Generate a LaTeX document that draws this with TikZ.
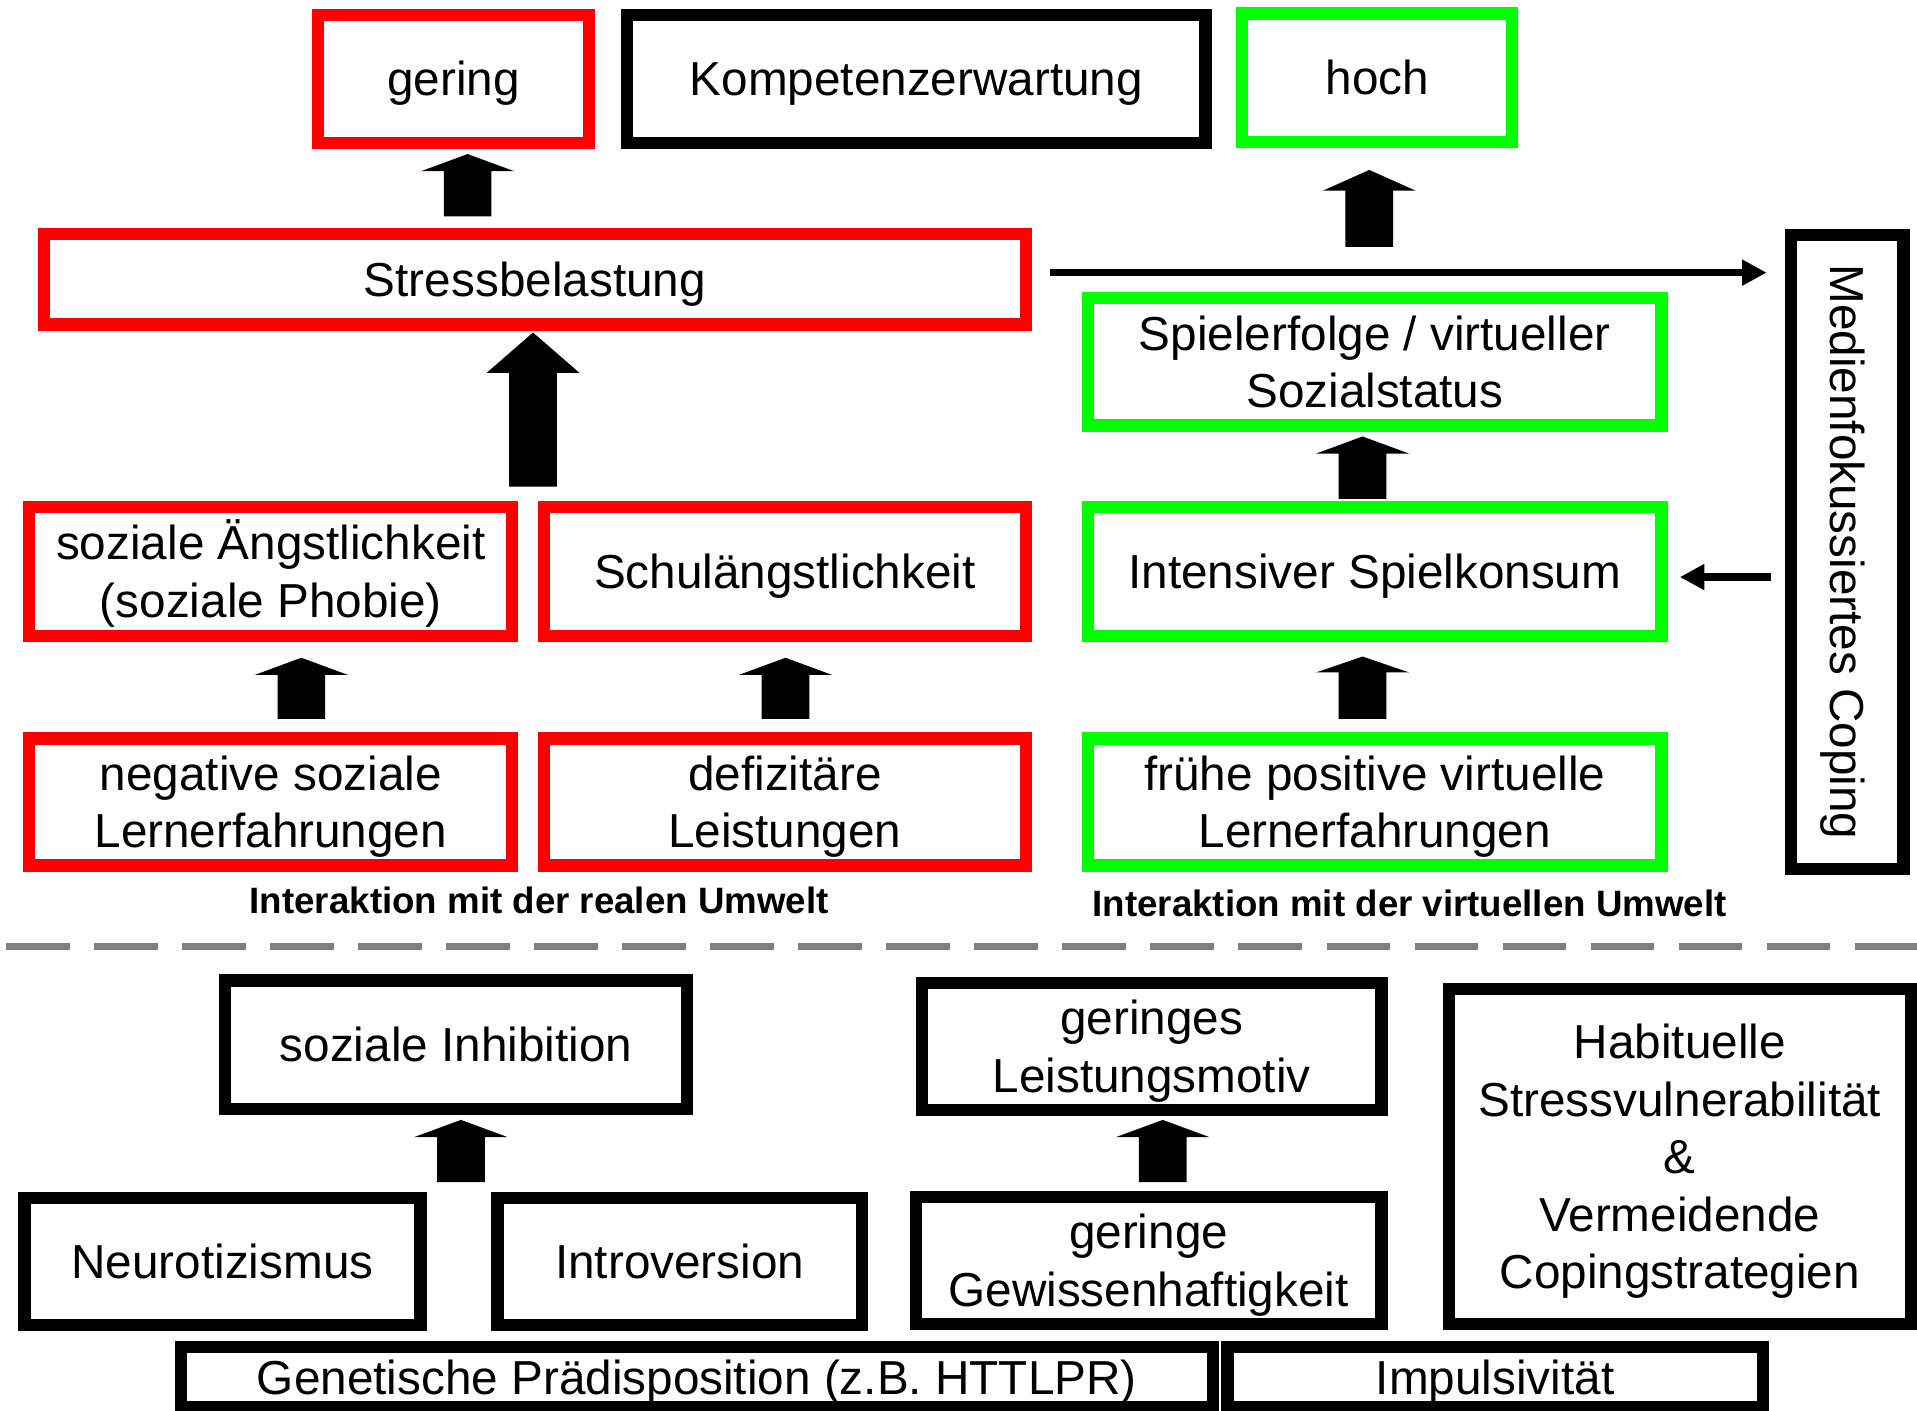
\documentclass[tikz,border=0pt]{standalone}
\usepackage{fontspec}
\setmainfont{Liberation Sans}
\usepackage{graphicx}
\usetikzlibrary{arrows.meta}
\definecolor{cred}{RGB}{255,0,0}
\definecolor{cgreen}{RGB}{0,255,0}
\definecolor{cgray}{RGB}{128,128,128}
\newcommand\st{\rule[-0.214em]{0pt}{1.144em}}
\newcommand\uparr[4]{%
  \fill[black] (#1,#2) -- (#1+38,#3) -- (#1+19.5,#3) -- (#1+19.5,#4) -- (#1-19.5,#4) -- (#1-19.5,#3) -- (#1-38,#3) -- cycle;}
\begin{document}
\begin{tikzpicture}[x=1pt,y=-1pt,
  box/.style={draw, line width=10pt, inner sep=0pt, outer sep=0pt, align=center, font=\fontsize{39}{47}\selectfont, text=black},
  rbox/.style={box, draw=cred},
  gbox/.style={box, draw=cgreen},
  kbox/.style={box, draw=black},
  lbl/.style={font=\fontsize{30}{36}\selectfont\bfseries, inner sep=0pt, anchor=base},
  thinarr/.style={draw=black, -{Triangle[length=20pt,width=20pt]}},
  dashline/.style={draw=cgray, line width=6pt, dash pattern=on 52pt off 20pt}]
\useasboundingbox (0,0) rectangle (1568,1154);

% top row
\node[rbox, minimum width=222pt, minimum height=105pt] (gering) at (371,64.5) {\st gering};
\node[kbox, minimum width=473pt, minimum height=105pt] (komp) at (749.5,64.5) {\st Kompetenzerwartung};
\node[gbox, minimum width=221pt, minimum height=105pt] (hoch) at (1126.5,63.5) {\st hoch};

\node[rbox, minimum width=803pt, minimum height=74pt] (stress) at (437.5,228.5) {\st Stressbelastung};

\node[gbox, minimum width=469pt, minimum height=104pt] (spiel) at (1124.5,296) {\st Spielerfolge / virtueller\\\st Sozialstatus};
\node[gbox, minimum width=469pt, minimum height=105pt] (intens) at (1124.5,467.5) {\st Intensiver Spielkonsum};
\node[gbox, minimum width=469pt, minimum height=104pt] (fruehe) at (1124.5,656) {\st frühe positive virtuelle\\\st Lernerfahrungen};

\node[rbox, minimum width=395pt, minimum height=105pt] (angst) at (221.5,467.5) {\st soziale Ängstlichkeit\\\st (soziale Phobie)};
\node[rbox, minimum width=394pt, minimum height=105pt] (schul) at (642,467.5) {\st Schulängstlichkeit};
\node[rbox, minimum width=395pt, minimum height=104pt] (neg) at (221.5,656) {\st negative soziale\\\st Lernerfahrungen};
\node[rbox, minimum width=394pt, minimum height=104pt] (defiz) at (642,656) {\st defizitäre\\\st Leistungen};

\node[kbox, minimum width=92pt, minimum height=519pt] (medien) at (1511,451.5) {\rotatebox{-90}{\st Medienfokussiertes Coping}};

\node[lbl] (real) at (441,747) {Interaktion mit der realen Umwelt};
\node[lbl] (virt) at (1153,750) {Interaktion mit der virtuellen Umwelt};

% block arrows
\uparr{382.5}{126}{140}{177}
\uparr{436}{272}{305}{398}
\uparr{1120}{139}{156}{202}
\uparr{1114.5}{357}{371}{408}
\uparr{1114.5}{537}{550}{588}
\uparr{246.5}{538}{552}{588}
\uparr{642.5}{538}{552}{588}
\uparr{377}{916}{930}{967}
\uparr{951}{916}{930}{967}

% thin arrows
\coordinate (ya) at (0,223);
\coordinate (yb) at (0,472);
\draw[thinarr, line width=6pt, shorten <=19.5pt, shorten >=20pt] (stress.east |- ya) -- (medien.west |- ya);
\draw[thinarr, line width=7pt, shorten <=16.5pt, shorten >=15pt] (medien.west |- yb) -- (intens.east |- yb);

% dashed separator
\coordinate (dl) at (5,774);
\coordinate (dr) at (1568,774);
\draw[dashline] (dl) -- (dr);

% bottom section
\node[kbox, minimum width=378pt, minimum height=105pt] (inhib) at (373,854.5) {\st soziale Inhibition};
\node[kbox, minimum width=376pt, minimum height=104pt] (motiv) at (942,856) {\st geringes\\\st Leistungsmotiv};
\node[kbox, minimum width=378pt, minimum height=274pt] (habit) at (1374,946) {\st Habituelle\\\st Stressvulnerabilität\\\st \&\\\st Vermeidende\\\st Copingstrategien};
\node[kbox, minimum width=324pt, minimum height=104pt] (neuro) at (182,1032) {\st Neurotizismus};
\node[kbox, minimum width=298pt, minimum height=104pt] (intro) at (556,1032) {\st Introversion};
\node[kbox, minimum width=381pt, minimum height=104pt] (gewiss) at (939.5,1031) {\st geringe\\\st Gewissenhaftigkeit};
\node[kbox, minimum width=844pt, minimum height=49pt] (gen) at (570,1126.5) {\st Genetische Prädisposition (z.B. HTTLPR)};
\node[kbox, minimum width=438pt, minimum height=49pt] (impuls) at (1223,1126.5) {\st Impulsivität};
\end{tikzpicture}
\end{document}
